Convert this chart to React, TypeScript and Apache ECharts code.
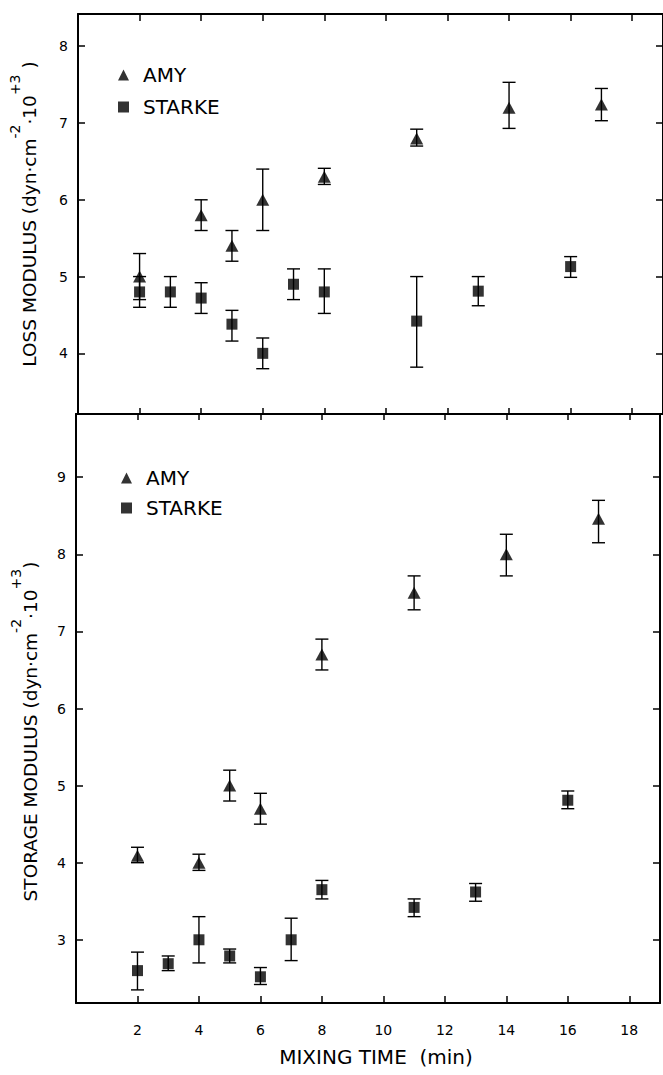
import React, { useEffect, useRef } from "react";
import * as echarts from "echarts";

// ---- data ----
const lossAmyX = [2, 4, 5, 6, 8, 11, 14, 17];
const lossAmy = [5.0, 5.8, 5.4, 6.0, 6.3, 6.8, 7.2, 7.24];
const lossAmyLow = [4.7, 5.6, 5.2, 5.6, 6.2, 6.7, 6.93, 7.03];
const lossAmyHigh = [5.3, 6.0, 5.6, 6.4, 6.41, 6.92, 7.53, 7.45];

const lossStarkeX = [2, 3, 4, 5, 6, 7, 8, 11, 13, 16];
const lossStarke = [4.8, 4.8, 4.72, 4.38, 4.0, 4.9, 4.8, 4.42, 4.81, 5.13];
const lossStarkeLow = [4.6, 4.6, 4.52, 4.16, 3.8, 4.7, 4.52, 3.82, 4.62, 4.99];
const lossStarkeHigh = [5.0, 5.0, 4.92, 4.56, 4.2, 5.1, 5.1, 5.0, 5.0, 5.26];

const storAmyX = [2, 4, 5, 6, 8, 11, 14, 17];
const storAmy = [4.09, 4.0, 5.0, 4.7, 6.7, 7.5, 8.0, 8.46];
const storAmyLow = [4.0, 3.9, 4.8, 4.5, 6.5, 7.28, 7.72, 8.15];
const storAmyHigh = [4.2, 4.11, 5.2, 4.9, 6.9, 7.72, 8.26, 8.7];

const storStarkeX = [2, 3, 4, 5, 6, 7, 8, 11, 13, 16];
const storStarke = [2.6, 2.69, 3.0, 2.79, 2.52, 3.0, 3.65, 3.42, 3.62, 4.81];
const storStarkeLow = [2.35, 2.6, 2.7, 2.7, 2.42, 2.73, 3.53, 3.3, 3.5, 4.7];
const storStarkeHigh = [2.84, 2.79, 3.3, 2.88, 2.64, 3.28, 3.77, 3.53, 3.73, 4.93];

const xTickLabels = [2, 4, 6, 8, 10, 12, 14, 16, 18];
const seriesNames = ["AMY", "STARKE"];

const FONT = "DejaVu Sans";
const BLACK = "#000";

const pts = (xs: number[], ys: number[]) => xs.map((x, i) => [x, ys[i]]);
const errs = (xs: number[], lo: number[], hi: number[]) =>
  xs.map((x, i) => [x, lo[i], hi[i]]);

const renderErr = (params: any, api: any) => {
  const x = api.value(0);
  const lo = api.coord([x, api.value(1)]);
  const hi = api.coord([x, api.value(2)]);
  const hw = 6.5;
  const style = { stroke: BLACK, lineWidth: 1.4, fill: "none" };
  return {
    type: "group",
    children: [
      { type: "line", shape: { x1: lo[0], y1: lo[1], x2: hi[0], y2: hi[1] }, style },
      { type: "line", shape: { x1: lo[0] - hw, y1: lo[1], x2: lo[0] + hw, y2: lo[1] }, style },
      { type: "line", shape: { x1: hi[0] - hw, y1: hi[1], x2: hi[0] + hw, y2: hi[1] }, style },
    ],
  };
};

const lineStyle = { color: BLACK, width: 2 };
const tickStyle = { color: BLACK, width: 1.5 };

const xAxisBase = (gridIndex: number, position: string, tickLen: number) => ({
  gridIndex,
  type: "value",
  position,
  min: 0,
  max: 19,
  interval: 2,
  axisLine: { show: true, onZero: false, lineStyle },
  axisTick: { show: true, inside: true, length: tickLen, lineStyle: tickStyle },
  axisLabel: { show: false },
  splitLine: { show: false },
});

const yAxisBase = (gridIndex: number, position: string, min: number, max: number) => ({
  gridIndex,
  type: "value",
  position,
  min,
  max,
  splitNumber: 6,
  minInterval: 1,
  maxInterval: 1,
  axisLine: { show: true, onZero: false, lineStyle },
  axisTick: { show: true, inside: true, length: 7, lineStyle: tickStyle },
  axisLabel: { show: false },
  splitLine: { show: false },
});

const isInt = (v: number) => Math.abs(v - Math.round(v)) < 1e-6;

const legendBase = (left: number, top: number, gap: number) => ({
  left,
  top,
  orient: "vertical",
  itemWidth: 11,
  itemHeight: 11,
  itemGap: gap,
  selectedMode: false,
  data: [
    { name: seriesNames[0], icon: "triangle" },
    { name: seriesNames[1], icon: "rect" },
  ],
  textStyle: { fontSize: 20, color: BLACK, fontFamily: FONT, lineHeight: 20, padding: [0, 0, 0, 9] },
});

const nameRich = (size: number) => ({
  a: {
    fontSize: size,
    fontFamily: FONT,
    color: BLACK,
    verticalAlign: "bottom",
    padding: [12, 0, 0, 0],
  },
  b: { fontSize: 14, fontFamily: FONT, color: BLACK, verticalAlign: "top" },
});

export default function App() {
  const ref = useRef<HTMLDivElement>(null);
  useEffect(() => {
    if (!ref.current) return;
    const chart = echarts.init(ref.current, undefined, { renderer: "svg" });
    const yLabel = {
      show: true,
      margin: 10,
      fontSize: 14,
      fontFamily: FONT,
      color: BLACK,
      formatter: (v: number) => (isInt(v) ? String(Math.round(v)) : ""),
    };
    const yTop = {
      ...yAxisBase(0, "left", 3.21, 8.42),
      axisLabel: yLabel,
      name: "{a|LOSS MODULUS (dyn·cm}{b|-2}{a|·10}{b|+3}{a| )}",
      nameLocation: "middle",
      nameGap: 39,
      nameTextStyle: { rich: nameRich(18.5) },
    };
    const yBot = {
      ...yAxisBase(1, "left", 2.18, 9.82),
      axisLabel: yLabel,
      name: "{a|STORAGE MODULUS (dyn·cm}{b|-2}{a|·10}{b|+3}{a|)}",
      nameLocation: "middle",
      nameGap: 36,
      nameTextStyle: { rich: nameRich(18.5), padding: [0, 46, 0, 0] },
    };
    const xBottom = {
      ...xAxisBase(1, "bottom", 7),
      axisLabel: {
        show: true,
        margin: 20,
        fontSize: 14,
        fontFamily: FONT,
        color: BLACK,
        formatter: (v: number) => (xTickLabels.includes(v) ? String(v) : ""),
      },
      name: "MIXING TIME  (min)",
      nameLocation: "middle",
      nameGap: 44,
      nameTextStyle: { fontSize: 20, fontFamily: FONT, color: BLACK, padding: [0, 0, 0, 16] },
    };

    chart.setOption({
      animation: false,
      backgroundColor: "#fff",
      grid: [
        { left: 76, top: 14, width: 587, height: 400 },
        { left: 76, top: 414, width: 587, height: 589 },
      ],
      legend: [legendBase(113, 60, 12), legendBase(116, 463, 10)],
      xAxis: [
        xAxisBase(0, "bottom", 6),
        xAxisBase(0, "top", 7),
        xAxisBase(1, "top", 6),
        xBottom,
      ],
      yAxis: [yTop, yAxisBase(0, "right", 3.21, 8.42), yBot, yAxisBase(1, "right", 2.18, 9.82)],
      series: [
        {
          type: "custom",
          xAxisIndex: 0,
          yAxisIndex: 0,
          renderItem: renderErr,
          encode: { x: 0, y: [1, 2] },
          data: errs(lossAmyX, lossAmyLow, lossAmyHigh),
          z: 1,
        },
        {
          type: "custom",
          xAxisIndex: 0,
          yAxisIndex: 0,
          renderItem: renderErr,
          encode: { x: 0, y: [1, 2] },
          data: errs(lossStarkeX, lossStarkeLow, lossStarkeHigh),
          z: 1,
        },
        {
          type: "custom",
          xAxisIndex: 3,
          yAxisIndex: 2,
          renderItem: renderErr,
          encode: { x: 0, y: [1, 2] },
          data: errs(storAmyX, storAmyLow, storAmyHigh),
          z: 1,
        },
        {
          type: "custom",
          xAxisIndex: 3,
          yAxisIndex: 2,
          renderItem: renderErr,
          encode: { x: 0, y: [1, 2] },
          data: errs(storStarkeX, storStarkeLow, storStarkeHigh),
          z: 1,
        },
        {
          name: seriesNames[0],
          type: "scatter",
          xAxisIndex: 0,
          yAxisIndex: 0,
          symbol: "triangle",
          symbolSize: [13, 12],
          itemStyle: { color: BLACK },
          data: pts(lossAmyX, lossAmy),
          z: 3,
        },
        {
          name: seriesNames[1],
          type: "scatter",
          xAxisIndex: 0,
          yAxisIndex: 0,
          symbol: "rect",
          symbolSize: 11,
          itemStyle: { color: BLACK },
          data: pts(lossStarkeX, lossStarke),
          z: 3,
        },
        {
          name: seriesNames[0],
          type: "scatter",
          xAxisIndex: 3,
          yAxisIndex: 2,
          symbol: "triangle",
          symbolSize: [13, 12],
          itemStyle: { color: BLACK },
          data: pts(storAmyX, storAmy),
          z: 3,
        },
        {
          name: seriesNames[1],
          type: "scatter",
          xAxisIndex: 3,
          yAxisIndex: 2,
          symbol: "rect",
          symbolSize: 11,
          itemStyle: { color: BLACK },
          data: pts(storStarkeX, storStarke),
          z: 3,
        },
      ],
    });
    return () => chart.dispose();
  }, []);
  return (
    <div
      ref={ref}
      style={{ position: "absolute", left: 0, top: 0, width: 663, height: 1075, background: "#fff" }}
    />
  );
}
